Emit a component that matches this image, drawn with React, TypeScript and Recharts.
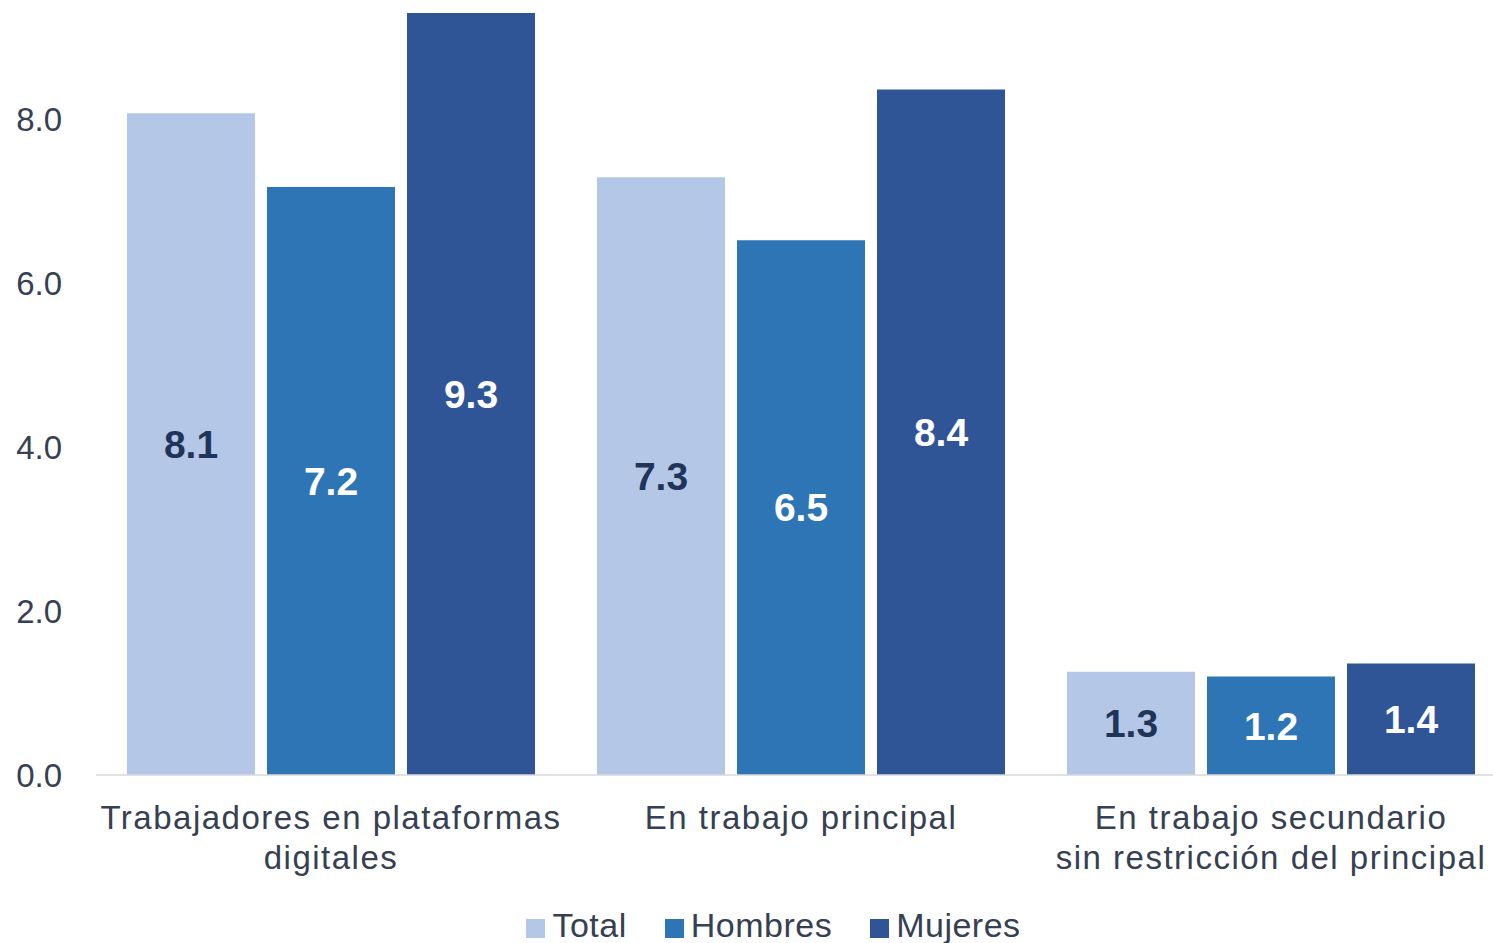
import React from "react";
import { BarChart, Bar, XAxis, YAxis, Legend, LabelList } from "recharts";

const categories = [
  "Trabajadores en plataformas\ndigitales",
  "En trabajo principal",
  "En trabajo secundario\nsin restricción del principal",
];
const totalValues = [8.07, 7.29, 1.26];
const hombresValues = [7.17, 6.52, 1.2];
const mujeresValues = [9.29, 8.36, 1.36];
const yTicks = [0, 2, 4, 6, 8];

const seriesNames = ["Total", "Hombres", "Mujeres"];
const seriesColors = ["#B4C7E7", "#2E75B6", "#2F5597"];
const labelColors = ["#1F3458", "#FFFFFF", "#FFFFFF"];

const data = categories.map((c, i) => ({
  name: c,
  Total: totalValues[i],
  Hombres: hombresValues[i],
  Mujeres: mujeresValues[i],
}));

const FONT = "'Liberation Sans', Arial, sans-serif";
const TEXT = "#354053";

const CategoryTick = (props: any) => {
  const { x, payload } = props;
  const lines = String(payload.value).split("\n");
  return (
    <g>
      {lines.map((l: string, i: number) => (
        <text
          key={i}
          x={x}
          y={775 + 54 + i * 40}
          textAnchor="middle"
          fontFamily={FONT}
          fontSize={33}
          letterSpacing={1.5}
          fill={TEXT}
        >
          {l}
        </text>
      ))}
    </g>
  );
};

const LegendContent = () => (
  <div
    style={{
      display: "flex",
      justifyContent: "center",
      alignItems: "center",
      paddingLeft: 41,
      paddingTop: 13,
      fontFamily: FONT,
      fontSize: 34,
      letterSpacing: 0.5,
      color: TEXT,
      lineHeight: "38px",
    }}
  >
    {seriesNames.map((n, i) => (
      <div key={n} style={{ display: "flex", alignItems: "center", marginRight: i < 2 ? 38 : 0 }}>
        <span
          style={{
            display: "inline-block",
            width: 19,
            height: 19,
            background: seriesColors[i],
            marginRight: 7,
            marginTop: 6,
          }}
        />
        <span>{n}</span>
      </div>
    ))}
  </div>
);

export default function App() {
  return (
    <div
      style={{
        position: "absolute",
        left: 0,
        top: 0,
        width: 1493,
        height: 943,
        overflow: "hidden",
        background: "#FFFFFF",
      }}
    >
      <BarChart
        width={1510}
        height={943}
        data={data}
        margin={{ top: 0, right: 4, left: 0, bottom: 0 }}
        barCategoryGap={31}
        barGap={12}
      >
        <XAxis
          dataKey="name"
          height={118}
          tickLine={false}
          tickSize={0}
          axisLine={{ stroke: "#D9D9D9", strokeWidth: 1.5 }}
          tick={<CategoryTick />}
          interval={0}
        />
        <YAxis
          width={96}
          domain={[0, 9.45]}
          ticks={yTicks}
          axisLine={false}
          tickLine={false}
          tickSize={0}
          tickMargin={34}
          tickFormatter={(v: number) => v.toFixed(1)}
          tick={{ fontSize: 33, fontFamily: FONT, fill: TEXT }}
        />
        <Legend verticalAlign="bottom" height={50} content={<LegendContent />} />
        {seriesNames.map((s, i) => (
          <Bar key={s} dataKey={s} fill={seriesColors[i]} isAnimationActive={false}>
            <LabelList
              dataKey={s}
              position="center"
              formatter={(v: number) => v.toFixed(1)}
              style={{ fontSize: 39, fontWeight: "bold", fontFamily: FONT, fill: labelColors[i] }}
            />
          </Bar>
        ))}
      </BarChart>
    </div>
  );
}
